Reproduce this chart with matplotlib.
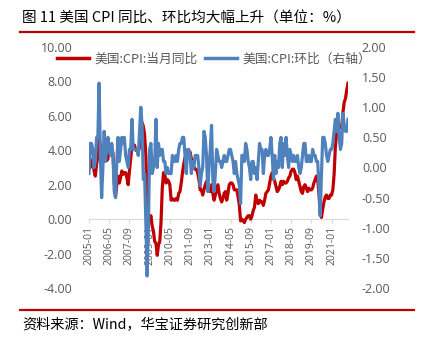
import matplotlib
matplotlib.use("Agg")
import matplotlib.pyplot as plt
from matplotlib.lines import Line2D

plt.rcParams['font.family'] = ['Noto Sans CJK SC', 'DejaVu Sans']

# 美国CPI 当月同比 (%), 2005-01 ~ 2022-02
cpi_yoy = [
    3.0, 3.0, 3.1, 3.5, 2.8, 2.5, 3.2, 3.6, 4.7, 4.3, 3.5, 3.4,
    4.0, 3.6, 3.4, 3.5, 4.2, 4.3, 4.1, 3.8, 2.1, 1.3, 2.0, 2.5,
    2.1, 2.4, 2.8, 2.6, 2.7, 2.7, 2.4, 2.0, 2.8, 3.5, 4.3, 4.1,
    4.3, 4.0, 4.0, 3.9, 4.2, 5.0, 5.6, 5.4, 4.9, 3.7, 1.1, 0.1,
    0.0, 0.2, -0.4, -0.7, -1.3, -1.4, -2.1, -1.5, -1.3, -0.2, 1.8, 2.7,
    2.6, 2.1, 2.3, 2.2, 2.0, 1.1, 1.2, 1.1, 1.1, 1.2, 1.1, 1.5,
    1.6, 2.1, 2.7, 3.2, 3.6, 3.6, 3.6, 3.8, 3.9, 3.5, 3.4, 3.0,
    2.9, 2.9, 2.7, 2.3, 1.7, 1.7, 1.4, 1.7, 2.0, 2.2, 1.8, 1.7,
    1.6, 2.0, 1.5, 1.1, 1.4, 1.8, 2.0, 1.5, 1.2, 1.0, 1.2, 1.5,
    1.6, 1.1, 1.5, 2.0, 2.1, 2.1, 2.0, 1.7, 1.7, 1.7, 1.3, 0.8,
    -0.1, 0.0, -0.1, -0.2, 0.0, 0.1, 0.2, 0.2, 0.0, 0.2, 0.5, 0.7,
    1.4, 1.0, 0.9, 1.1, 1.0, 1.0, 0.8, 1.1, 1.5, 1.6, 1.7, 2.1,
    2.5, 2.7, 2.4, 2.2, 1.9, 1.6, 1.7, 1.9, 2.2, 2.0, 2.2, 2.1,
    2.1, 2.2, 2.4, 2.5, 2.8, 2.9, 2.9, 2.7, 2.3, 2.5, 2.2, 1.9,
    1.6, 1.5, 1.9, 2.0, 1.8, 1.6, 1.8, 1.7, 1.7, 1.8, 2.1, 2.3,
    2.5, 2.3, 1.5, 0.3, 0.1, 0.6, 1.0, 1.3, 1.4, 1.2, 1.2, 1.4,
    1.4, 1.7, 2.6, 4.2, 5.0, 5.4, 5.4, 5.3, 5.4, 6.2, 6.8, 7.0,
    7.5, 7.9,
]

# 美国CPI 环比 (%), 右轴
cpi_mom = [
    -0.1, 0.4, 0.4, 0.3, 0.0, 0.1, 0.5, 0.5, 1.4, 0.2, -0.5, 0.0,
    0.6, 0.1, 0.3, 0.5, 0.3, 0.2, 0.4, 0.2, -0.4, -0.5, 0.1, 0.5,
    0.1, 0.3, 0.5, 0.4, 0.5, 0.2, 0.1, 0.0, 0.3, 0.3, 0.8, 0.3,
    0.3, 0.3, 0.3, 0.2, 0.6, 1.0, 0.7, -0.2, -0.1, -0.9, -1.8, -1.0,
    0.3, 0.4, -0.1, 0.0, 0.1, 0.8, 0.0, 0.4, 0.2, 0.3, 0.3, 0.1,
    0.1, -0.1, 0.0, -0.1, -0.1, -0.1, 0.2, 0.1, 0.1, 0.2, 0.1, 0.3,
    0.4, 0.4, 0.5, 0.5, 0.2, -0.1, 0.3, 0.3, 0.2, -0.1, 0.1, 0.0,
    0.2, 0.2, 0.2, 0.0, -0.3, -0.1, 0.0, 0.6, 0.5, 0.2, -0.4, 0.0,
    0.3, 0.7, -0.2, -0.4, -0.1, 0.3, 0.2, 0.1, 0.1, 0.0, 0.1, 0.2,
    0.1, 0.1, 0.2, 0.3, 0.3, 0.2, 0.1, -0.1, 0.1, -0.1, -0.2, -0.3,
    -0.6, 0.2, 0.2, 0.1, 0.4, 0.3, 0.1, 0.0, -0.2, 0.1, 0.1, -0.1,
    0.0, -0.2, 0.1, 0.4, 0.3, 0.3, -0.1, 0.2, 0.3, 0.2, 0.2, 0.3,
    0.5, 0.2, -0.2, 0.2, -0.1, 0.1, 0.0, 0.4, 0.5, 0.0, 0.4, 0.2,
    0.5, 0.2, 0.0, 0.3, 0.2, 0.1, 0.2, 0.1, 0.1, 0.2, 0.0, -0.1,
    0.0, 0.2, 0.4, 0.4, 0.1, 0.1, 0.2, 0.1, 0.1, 0.3, 0.2, 0.2,
    0.1, 0.1, -0.3, -0.8, -0.1, 0.5, 0.5, 0.4, 0.2, 0.1, 0.2, 0.3,
    0.3, 0.4, 0.6, 0.8, 0.6, 0.9, 0.5, 0.3, 0.4, 0.9, 0.7, 0.6,
    0.6, 0.8,
]

tick_labels = ["2005-01", "2006-05", "2007-09", "2009-01", "2010-05",
               "2011-09", "2013-01", "2014-05", "2015-09", "2017-01",
               "2018-05", "2019-09", "2021-01"]

RED = "#C00000"
BLUE = "#4F81BD"
GRAY = "#595959"
num_font = "Open Sans"

fig = plt.figure(figsize=(4.28, 3.43), dpi=100)
W, H = 428, 343
ax = fig.add_axes([89 / W, 1 - 288 / H, (348 - 89) / W, (288 - 47) / H])

# spine position first: set_position resets the ticks
for s in ["top", "left", "right"]:
    ax.spines[s].set_visible(False)
ax.spines["bottom"].set_position(("data", 0))
ax.spines["bottom"].set_color("#D9D9D9")
ax.spines["bottom"].set_zorder(0)

x = list(range(len(cpi_yoy)))
ax.plot(x, cpi_yoy, color=RED, lw=2.3, solid_joinstyle="round")
ax.set_xlim(0, len(cpi_yoy) - 1)
ax.set_ylim(-4, 10)
ax.set_yticks([-4, -2, 0, 2, 4, 6, 8, 10])
ax.set_yticklabels(["%.2f" % v for v in ax.get_yticks()], fontfamily=num_font,
                   fontsize=9, color=GRAY)
ax.set_xticks(range(0, len(cpi_yoy), 16))
ax.set_xticklabels(tick_labels, rotation=90, fontfamily=num_font, fontsize=7.5,
                   color=GRAY, va="top")
ax.tick_params(axis="y", length=0, pad=12)
ax.tick_params(axis="x", length=3, color="#D9D9D9", pad=2)

ax2 = ax.twinx()
ax2.plot(x, cpi_mom, color=BLUE, lw=2.3, solid_joinstyle="round")
ax2.set_ylim(-2, 2)
ax2.set_yticks([-2, -1.5, -1, -0.5, 0, 0.5, 1, 1.5, 2])
ax2.set_yticklabels(["%.2f" % v for v in ax2.get_yticks()], fontfamily=num_font,
                    fontsize=9, color=GRAY)
ax2.tick_params(axis="y", length=0, pad=10)
for s in ax2.spines.values():
    s.set_visible(False)

handles = [Line2D([], [], color=RED, lw=2.5), Line2D([], [], color=BLUE, lw=2.5)]
fig.legend(handles, ["美国:CPI:当月同比", "美国:CPI:环比（右轴）"],
           loc="center left", bbox_to_anchor=(57 / W, 1 - 59 / H), ncol=2,
           frameon=False, fontsize=9.2, labelcolor=GRAY, handlelength=2.5,
           handletextpad=0.4, columnspacing=0.6, borderpad=0, borderaxespad=0)

fig.text(22 / W, 1 - 19 / H, "图 11 美国 CPI 同比、环比均大幅上升（单位：%）",
         fontsize=10.5, va="center", ha="left", color="black")
fig.add_artist(Line2D([20 / W, 414 / W], [1 - 32 / H, 1 - 32 / H], color="#C00000", lw=1.6))
fig.add_artist(Line2D([20 / W, 414 / W], [1 - 310 / H, 1 - 310 / H], color="#C00000", lw=1.6))
fig.text(22 / W, 1 - 325 / H, "资料来源：Wind，华宝证券研究创新部",
         fontsize=10.2, va="center", ha="left", color="black")

fig.savefig("out.png", dpi=100)
